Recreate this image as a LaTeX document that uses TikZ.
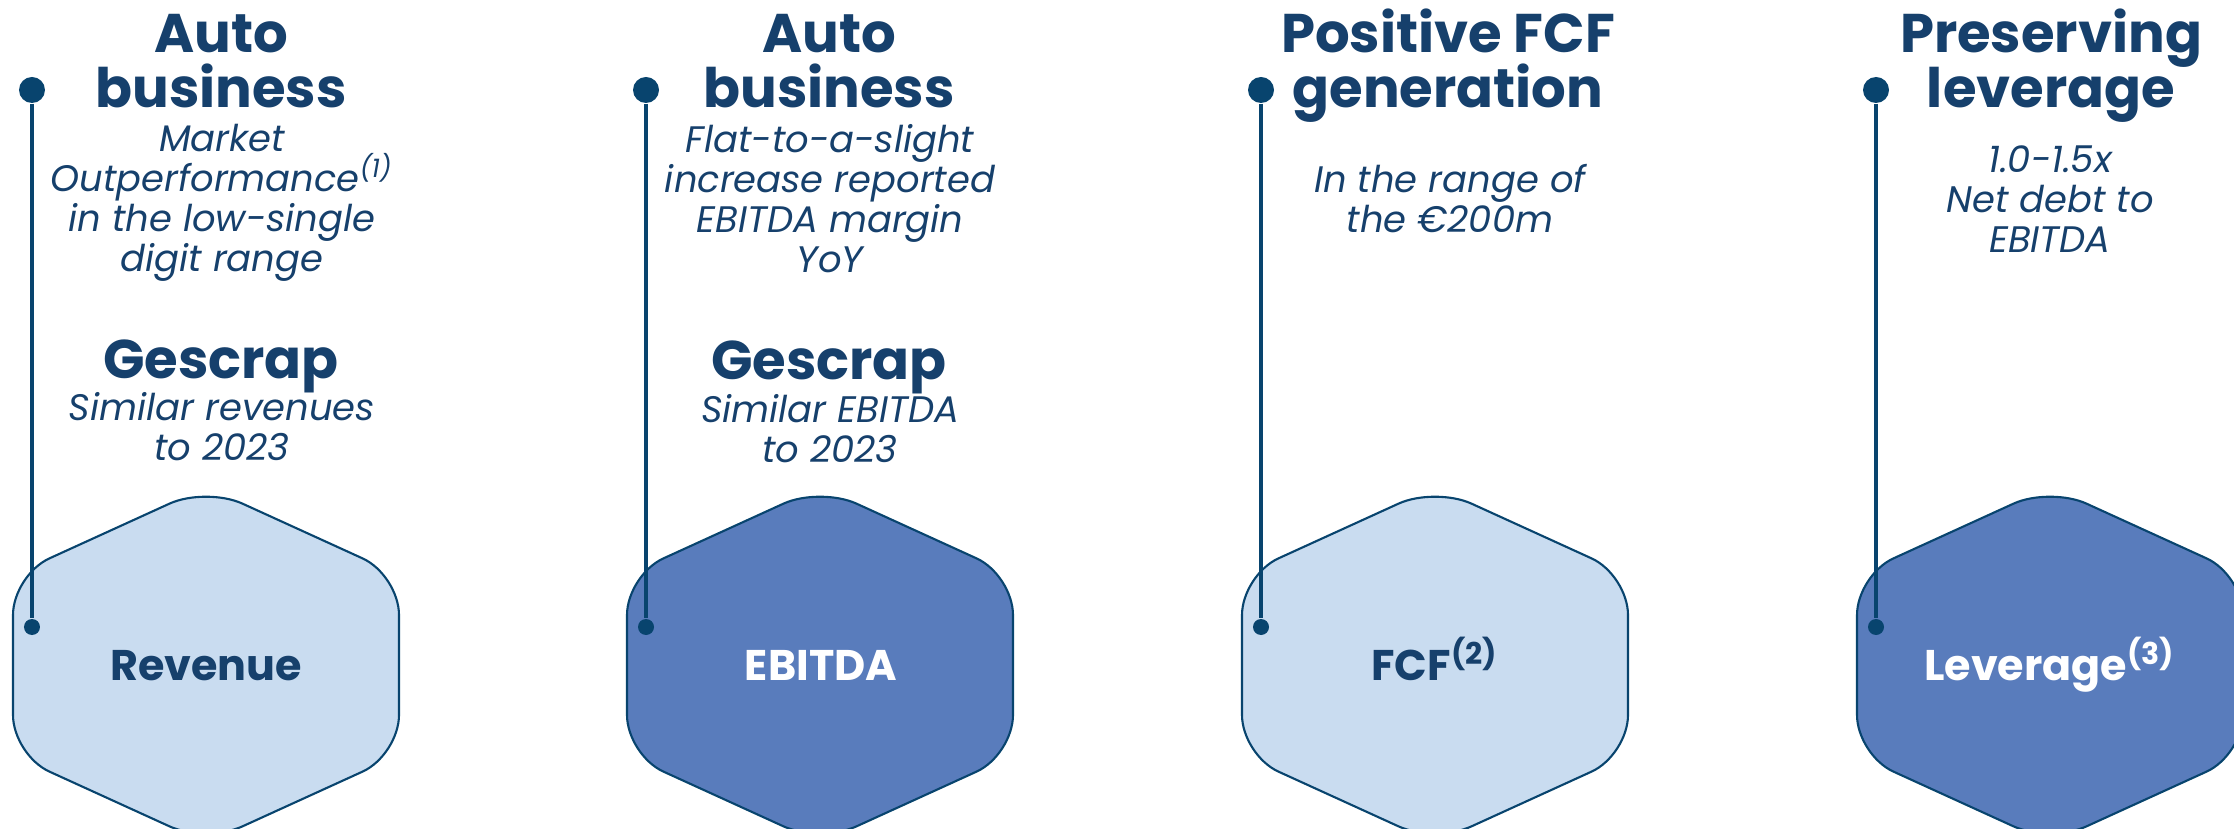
\documentclass[tikz,border=0pt]{standalone}
\usepackage{fontspec}
\setmainfont{Poppins}
\definecolor{navy}{RGB}{22,64,108}
\definecolor{dotblue}{RGB}{8,68,110}
\definecolor{paleblue}{RGB}{201,220,240}
\definecolor{midblue}{RGB}{89,124,188}
\def\hexagon{++(-1.93,0) -- ++(0,0.9) -- ++(1.93,0.88) -- ++(1.93,-0.88) -- ++(0,-1.8) -- ++(-1.93,-0.88) -- ++(-1.93,0.88) -- cycle}
\tikzset{
  hexline/.style={draw=dotblue,line width=0.6pt,rounded corners=0.4cm},
  topdot/.style={circle,fill=dotblue,inner sep=0pt,minimum size=0.26cm},
  enddot/.style={circle,fill=dotblue,inner sep=0pt,minimum size=0.16cm},
  stem/.style={dotblue,line width=1pt},
  head/.style={align=center,anchor=base,inner sep=0pt,text=navy,font=\fontsize{15.5}{15.9}\selectfont\bfseries},
  body/.style={align=center,anchor=base,inner sep=0pt,text=navy,font=\fontsize{10.5}{11.4}\selectfont\itshape},
  hexlabel/.style={anchor=base,inner sep=0pt,font=\fontsize{12.2}{14}\selectfont\bfseries}
}

\begin{document}
\begin{tikzpicture}
\useasboundingbox (0,0) rectangle (22.34,-8.29);
\foreach \x/\fillcol [count=\i] in {2.06/paleblue,8.20/midblue,14.35/paleblue,20.50/midblue}{
  \draw[hexline,fill=\fillcol] (\x,-6.65) \hexagon;
  \node[topdot] (top\i) at (\x-1.74,-0.90) {};
  \node[enddot] (end\i) at (\x-1.74,-6.27) {};
  \draw[stem] (top\i) -- (end\i);
}
\node[head] (auto1) at (2.21,-1.08) {Auto\\business};
\node[body] (market) at (2.22,-2.72) {Market\\Outperformance\textsuperscript{(1)}\\in the low-single\\digit range};
\node[head] (gescrap1) at (2.21,-3.79) {Gescrap};
\node[body] (revenues) at (2.22,-4.61) {Similar revenues\\to 2023};
\node[head] (auto2) at (8.29,-1.08) {Auto\\business};
\node[body] (margin) at (8.30,-2.73) {Flat-to-a-slight\\increase reported\\EBITDA margin\\YoY};
\node[head] (gescrap2) at (8.29,-3.80) {Gescrap};
\node[body] (similar) at (8.30,-4.63) {Similar EBITDA\\to 2023};
\node[head] (fcfhead) at (14.48,-1.08) {Positive FCF\\generation};
\node[body] (range) at (14.50,-2.33) {In the range of\\the €200m};
\node[head] (levhead) at (20.51,-1.08) {Preserving\\leverage};
\node[body] (netdebt) at (20.50,-2.53) {1.0-1.5x\\Net debt to\\EBITDA};
\node[hexlabel,text=navy] (revenue) at (2.06,-6.80) {Revenue};
\node[hexlabel,text=white] (ebitda) at (8.21,-6.80) {EBITDA};
\node[hexlabel,text=navy] (fcf) at (14.35,-6.80) {FCF\textsuperscript{(2)}};
\node[hexlabel,text=white] (leverage) at (20.50,-6.80) {Leverage\textsuperscript{(3)}};
\end{tikzpicture}
\end{document}
